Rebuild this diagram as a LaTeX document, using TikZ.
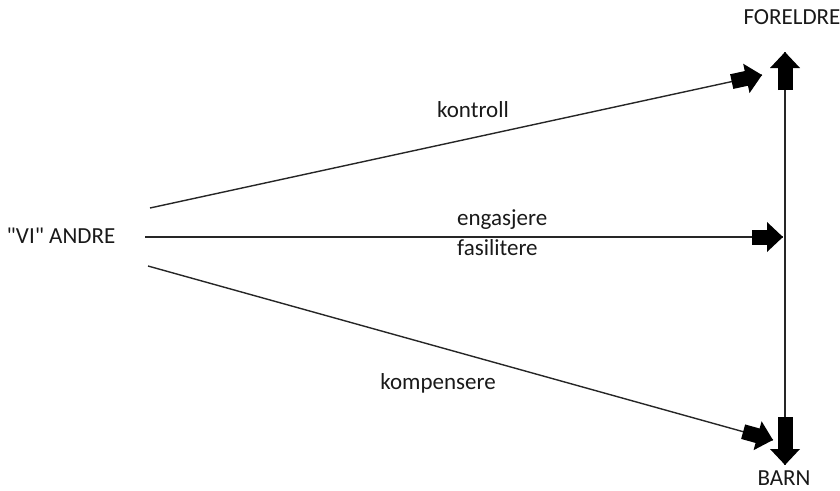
\documentclass[tikz,border=0pt]{standalone}
\usepackage{fontspec}
\setmainfont{Carlito}[Ligatures=TeXOff]
\usetikzlibrary{arrows.meta,calc}

\begin{document}
\begin{tikzpicture}[x=1pt,y=-1pt,
    link/.style={line width=1.4pt,black!85},
    fat/.style={line width=15pt,-{Triangle[length=16pt,width=29pt]}},
    lbl/.style={font=\fontsize{23}{27}\selectfont,text=black!90,inner sep=0pt}]
    \useasboundingbox (0,0) rectangle (840,490);
    % the three groups
    \node[lbl] (vi) at (61,236) {"VI" ANDRE};
    \node[lbl] (foreldre) at (792,17) {FORELDRE};
    \node[lbl] (barn) at (784,478) {BARN};
    % tips of the fat arrows
    \coordinate (up) at (785,52);
    \coordinate (down) at (785,465);
    \coordinate (kTip) at (762,75);
    \coordinate (eTip) at (783,237);
    \coordinate (cTip) at (773,440);
    % free ends on the left
    \coordinate (k0) at (150,208);
    \coordinate (e0) at (145,237);
    \coordinate (c0) at (148,266);

    % vertical line between FORELDRE and BARN
    \draw[link] (up)--(down);
    \draw[fat] ($(up)!38pt!(down)$)--(up);
    \draw[fat] ($(down)!48pt!(up)$)--(down);

    % the three lines from "VI" ANDRE
    \foreach \a/\b in {k0/kTip,e0/eTip,c0/cTip} {
        \draw[link] (\a)--(\b);
        \draw[fat] ($(\b)!31pt!(\a)$)--(\b);
    }

    % labels
    \node[lbl] (kontroll) at (473,110) {kontroll};
    \node[lbl,anchor=west] (engasjere) at (457,220) {engasjere};
    \node[lbl,anchor=west] (fasilitere) at (457,248) {fasilitere};
    \node[lbl] (kompensere) at (438,383) {kompensere};
\end{tikzpicture}
\end{document}
